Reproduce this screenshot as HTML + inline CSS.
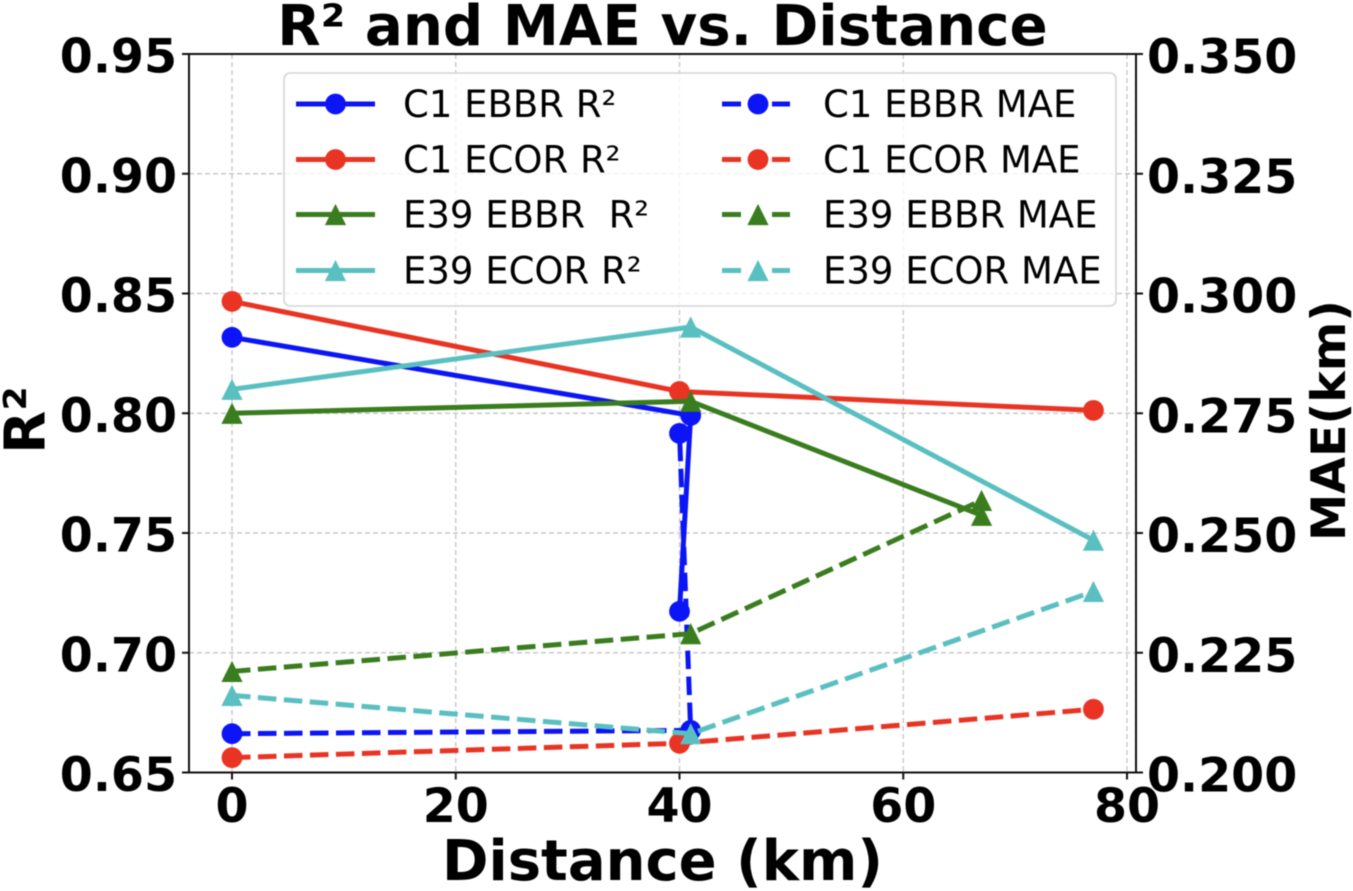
<!DOCTYPE html>
<html>
<head>
<meta charset="utf-8">
<title>R² and MAE vs. Distance</title>
<style>
html,body{margin:0;padding:0;background:#fff;}
svg{display:block;filter:blur(0.4px);}
text{font-family:"DejaVu Sans","Liberation Sans",sans-serif;fill:#000;white-space:pre;}
.bold{font-weight:bold;}
</style>
</head>
<body>
<svg id="chart" xmlns="http://www.w3.org/2000/svg" width="1353" height="891" viewBox="0 0 1353 891"></svg>
<script>
const xTicks = [0, 20, 40, 60, 80];
const leftTicks = [0.65, 0.70, 0.75, 0.80, 0.85, 0.90, 0.95];
const leftTickLabels = ['0.65', '0.70', '0.75', '0.80', '0.85', '0.90', '0.95'];
const rightTicks = [0.200, 0.225, 0.250, 0.275, 0.300, 0.325, 0.350];
const rightTickLabels = ['0.200', '0.225', '0.250', '0.275', '0.300', '0.325', '0.350'];

const c1EbbrDist = [0, 41, 40];
const c1EbbrR2 = [0.8317, 0.7991, 0.7173];
const c1EcorDist = [0, 40, 77];
const c1EcorR2 = [0.8467, 0.8091, 0.8012];
const e39EbbrDist = [0, 41, 67];
const e39EbbrR2 = [0.8000, 0.8050, 0.7574];
const e39EcorDist = [0, 41, 77];
const e39EcorR2 = [0.8100, 0.8360, 0.7470];

const c1EbbrMae = [0.2081, 0.2088, 0.2708];
const c1EcorMae = [0.2031, 0.2061, 0.2132];
const e39EbbrMae = [0.2211, 0.2290, 0.2568];
const e39EcorMae = [0.2161, 0.2081, 0.2378];

const blue = '#0c15f5', red = '#e93323', green = '#3a7d1e', teal = '#5abfc0';

const svg = document.getElementById('chart');
const NS = 'http://www.w3.org/2000/svg';
const plot = {left: 189, right: 1136, top: 54, bottom: 772.5};

function xScale(v) { return 232 + (v / 80) * (1127 - 232); }
function yLeft(v) { return plot.bottom - ((v - 0.65) / 0.30) * (plot.bottom - plot.top); }
function yRight(v) { return plot.bottom - ((v - 0.20) / 0.15) * (plot.bottom - plot.top); }

function add(tag, attrs, parent) {
  const el = document.createElementNS(NS, tag);
  for (const k in attrs) el.setAttribute(k, attrs[k]);
  (parent || svg).appendChild(el);
  return el;
}
function line(x1, y1, x2, y2, stroke, width, dash, parent) {
  const o = {x1: x1, y1: y1, x2: x2, y2: y2, stroke: stroke, 'stroke-width': width};
  if (dash) o['stroke-dasharray'] = dash;
  return add('line', o, parent);
}
function label(str, x, y, size, anchor, bold, parent) {
  const t = add('text', {x: x, y: y, 'font-size': size, 'text-anchor': anchor, 'class': bold ? 'bold' : ''}, parent);
  t.textContent = str;
  return t;
}
function marker(kind, x, y, color, r, parent) {
  if (kind === 'circle') return add('circle', {cx: x, cy: y, r: r, fill: color}, parent);
  const h = r * 1.02;
  const pts = (x) + ',' + (y - h) + ' ' + (x + h) + ',' + (y + h) + ' ' + (x - h) + ',' + (y + h);
  return add('polygon', {points: pts, fill: color}, parent);
}

/* grid */
const grid = add('g', {});


xTicks.forEach(function (v) {
  line(xScale(v), plot.top, xScale(v), plot.bottom, '#c8c8c8', 1.4, '5 3', grid);
});
leftTicks.forEach(function (v) {
  line(plot.left, yLeft(v), plot.right, yLeft(v), '#c8c8c8', 1.4, '5 3', grid);
});

/* series */
function drawSeries(name, dist, vals, yFn, color, kind, dashed) {
  const g = add('g', {});
  
  
  const pts = dist.map(function (d, i) { return xScale(d) + ',' + yFn(vals[i]); }).join(' ');
  const o = {points: pts, fill: 'none', stroke: color, 'stroke-width': 5, 'stroke-linejoin': 'round'};
  if (dashed) o['stroke-dasharray'] = '18.5 7.5';
  add('polyline', o, g);
  dist.forEach(function (d, i) {
    marker(kind, xScale(d), yFn(vals[i]), color, 10.4, g);
  });
}
drawSeries('c1-ebbr-r2-line', c1EbbrDist, c1EbbrR2, yLeft, blue, 'circle', false);
drawSeries('c1-ecor-r2-line', c1EcorDist, c1EcorR2, yLeft, red, 'circle', false);
drawSeries('e39-ebbr-r2-line', e39EbbrDist, e39EbbrR2, yLeft, green, 'triangle', false);
drawSeries('e39-ecor-r2-line', e39EcorDist, e39EcorR2, yLeft, teal, 'triangle', false);
drawSeries('c1-ebbr-mae-line', c1EbbrDist, c1EbbrMae, yRight, blue, 'circle', true);
drawSeries('c1-ecor-mae-line', c1EcorDist, c1EcorMae, yRight, red, 'circle', true);
drawSeries('e39-ebbr-mae-line', e39EbbrDist, e39EbbrMae, yRight, green, 'triangle', true);
drawSeries('e39-ecor-mae-line', e39EcorDist, e39EcorMae, yRight, teal, 'triangle', true);

/* spines */
const spines = add('g', {});


add('rect', {x: plot.left, y: plot.top, width: plot.right - plot.left, height: plot.bottom - plot.top, fill: 'none', stroke: '#111', 'stroke-width': 2}, spines);

/* x axis */
const xAxis = add('g', {});


xTicks.forEach(function (v) {
  line(xScale(v), plot.bottom, xScale(v), plot.bottom + 7, '#111', 2, null, xAxis);
  const t = label(String(v), xScale(v), 822, 47.5, 'middle', true, xAxis);
  
  
});

/* left axis */
const yAxisL = add('g', {});


leftTicks.forEach(function (v, i) {
  line(plot.left - 7, yLeft(v), plot.left, yLeft(v), '#111', 2, null, yAxisL);
  const t = label(leftTickLabels[i], 177, yLeft(v) + 18.5, 47.5, 'end', true, yAxisL);
  
  
});

/* right axis */
const yAxisR = add('g', {});


rightTicks.forEach(function (v, i) {
  line(plot.right, yRight(v), plot.right + 7, yRight(v), '#111', 2, null, yAxisR);
  const t = label(rightTickLabels[i], 1147, yRight(v) + 19, 47.5, 'start', true, yAxisR);
  
  
});

/* titles */
const title = label('R² and MAE vs. Distance', 662.5, 45, 56.3, 'middle', true);


const xTitle = label('Distance (km)', 662.5, 880, 56, 'middle', true);


const yTitleL = label('R²', 0, 0, 56, 'middle', true);
yTitleL.setAttribute('transform', 'translate(44.5,420) rotate(-90)');


const yTitleR = label('MAE(km)', 0, 0, 47.5, 'middle', true);
yTitleR.setAttribute('transform', 'translate(1345,420.5) rotate(-90)');



/* legend */
const legendEntries = [
  ['C1 EBBR R²', blue, 'circle', false, 0, 0],
  ['C1 ECOR R²', red, 'circle', false, 0, 1],
  ['E39 EBBR  R²', green, 'triangle', false, 0, 2],
  ['E39 ECOR R²', teal, 'triangle', false, 0, 3],
  ['C1 EBBR MAE', blue, 'circle', true, 1, 0],
  ['C1 ECOR MAE', red, 'circle', true, 1, 1],
  ['E39 EBBR MAE', green, 'triangle', true, 1, 2],
  ['E39 ECOR MAE', teal, 'triangle', true, 1, 3]
];
const legend = add('g', {});


add('rect', {x: 284, y: 73, width: 832, height: 233, rx: 6, fill: '#fff', 'fill-opacity': 0.8, stroke: '#d5d5d5', 'stroke-width': 1.6}, legend);
const rowY = [104, 159.5, 214.5, 270.5];
legendEntries.forEach(function (e) {
  const g = add('g', {}, legend);
  
  
  const y = rowY[e[5]];
  if (e[4] === 0) {
    line(296, y, 375, y, e[1], 5, null, g);
    marker(e[2], 335.5, y, e[1], 10.4, g);
    label(e[0], 403, y + 13, 37, 'start', false, g);
  } else {
    line(722, y, 741, y, e[1], 5, null, g);
    line(772, y, 790, y, e[1], 5, null, g);
    marker(e[2], 758, y, e[1], 10.4, g);
    label(e[0], 823, y + 13, 37, 'start', false, g);
  }
});
</script>
</body>
</html>
